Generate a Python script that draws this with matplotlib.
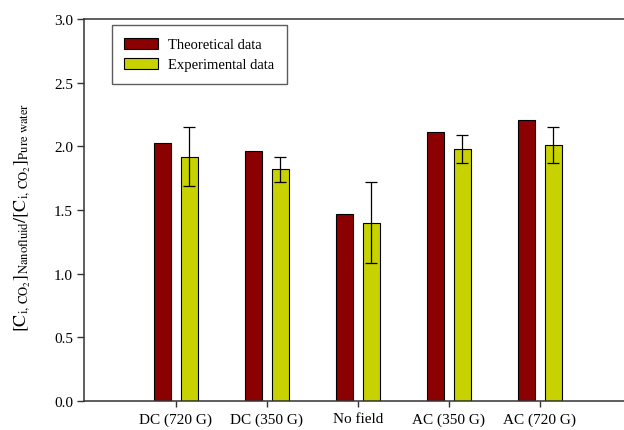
import numpy as np
import matplotlib
matplotlib.use("Agg")
import matplotlib.pyplot as plt

plt.rcParams['font.family'] = ['Liberation Serif', 'DejaVu Serif']
plt.rcParams['mathtext.fontset'] = 'stix'

categories = ["DC (720 G)", "DC (350 G)", "No field", "AC (350 G)", "AC (720 G)"]
theoretical = [2.03, 1.96, 1.47, 2.11, 2.21]
experimental = [1.92, 1.82, 1.40, 1.98, 2.01]
exp_err = [0.23, 0.10, 0.32, 0.11, 0.14]

fig = plt.figure(figsize=(6.24, 4.31), dpi=100)
# axes runs off the right edge like the cropped original
ax = fig.add_axes([84 / 624, 29 / 431, 546 / 624, 382 / 431])

x = np.arange(len(categories))
w = 0.18
off = 0.148
ax.bar(x - off, theoretical, w, color='#8b0000', edgecolor='black', linewidth=0.8,
       label='Theoretical data', zorder=2)
ax.bar(x + off, experimental, w, color='#c8d200', edgecolor='black', linewidth=0.8,
       label='Experimental data', zorder=2)
ax.errorbar(x + off, experimental, yerr=exp_err, fmt='none', ecolor='black',
            elinewidth=0.9, capsize=4.3, capthick=0.9, zorder=3)

ax.set_xlim(-1.01, 4.99)
ax.set_ylim(0, 3.0)
ax.set_xticks(x)
ax.set_xticklabels(categories)
ax.set_yticks(np.arange(0, 3.01, 0.5))
ax.set_yticklabels([f"{v:.1f}" for v in np.arange(0, 3.01, 0.5)])
ax.tick_params(axis='both', direction='out', labelsize=11, width=1, colors='#333333',
               labelcolor='black')
ax.tick_params(axis='y', length=5, pad=3)
ax.tick_params(axis='x', length=4, pad=4)

for side in ['left', 'bottom', 'top']:
    ax.spines[side].set_linewidth(1.1)
    ax.spines[side].set_color('#333333')
ax.spines['right'].set_visible(False)

ax.set_ylabel(r'$[\mathrm{C}_{\mathrm{i,\,CO_2}}]_{\mathrm{Nanofluid}}/[\mathrm{C}_{\mathrm{i,\,CO_2}}]_{\mathrm{Pure\ water}}$',
              fontsize=13)
ax.yaxis.set_label_coords(-0.095, 0.482)

leg = ax.legend(loc='upper left', bbox_to_anchor=(0.0513, 0.984), fontsize=10.5,
                frameon=True, fancybox=False, borderpad=0.85, handlelength=2.3,
                handleheight=0.8, handletextpad=0.7, labelspacing=0.45,
                borderaxespad=0)
leg.get_frame().set_edgecolor('#333333')
leg.get_frame().set_linewidth(1.0)

fig.savefig('out.png', dpi=100)
